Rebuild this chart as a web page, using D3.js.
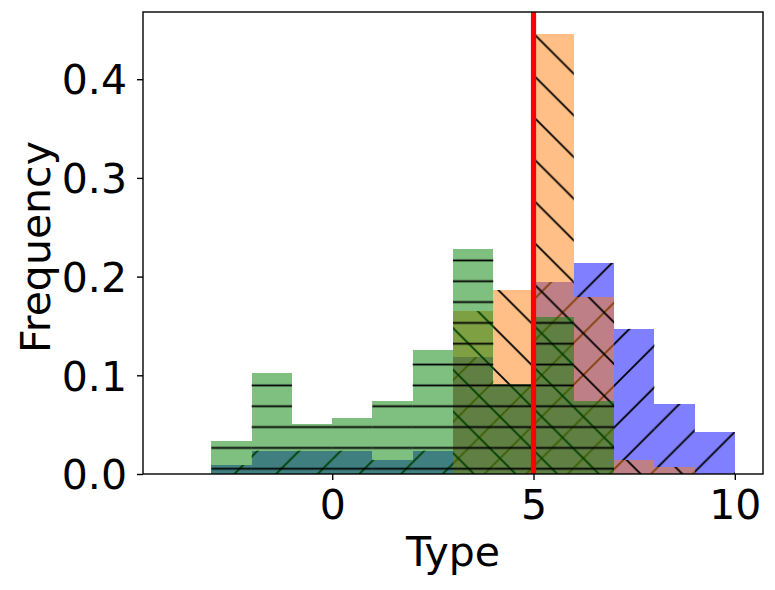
<!DOCTYPE html>
<html lang="en">
<head>
<meta charset="UTF-8">
<title>Type histogram</title>
<script src="https://d3js.org/d3.v7.min.js"></script>
<style>
  body { margin: 0; background: #fff; }
  svg { display: block; font-family: "DejaVu Sans", sans-serif; }
</style>
</head>
<body>
<svg id="main" width="775" height="590"></svg>
<script>
// histogram bins (left edges, width 1) and densities
const binStarts = [-4, -3, -2, -1, 0, 1, 2, 3, 4, 5, 6, 7, 8, 9];
const binWidth = 1;
const blueVals   = [0, 0.0091, 0.0236, 0.0236, 0.0236, 0.0142, 0.0236, 0.1185, 0.0912, 0.1945, 0.2138, 0.147, 0.0709, 0.0426];
const orangeVals = [0, 0, 0, 0, 0, 0, 0, 0.165, 0.1864, 0.4458, 0.1793, 0.0142, 0.0071, 0];
const greenVals  = [0, 0.0334, 0.1023, 0.0507, 0.0567, 0.074, 0.1256, 0.228, 0.0912, 0.159, 0.074, 0, 0, 0];
const xTicks = [0, 5, 10];
const yTicks = [0, 0.1, 0.2, 0.3, 0.4];
const threshold = 5;

const series = [
  {name: 'blue', color: '#0000ff', hatch: 'hatch-ne', vals: blueVals},
  {name: 'orange', color: '#ff7f0e', hatch: 'hatch-nw', vals: orangeVals},
  {name: 'green', color: '#008000', hatch: 'hatch-h', vals: greenVals}
];

const L = 143, R = 763, T = 12, B = 474;
const svg = d3.select('svg#main');

const lo = d3.min(binStarts), hi = d3.max(binStarts) + binWidth;
const pad = (hi - lo) * 0.05;
const x = d3.scaleLinear().domain([lo - pad, hi + pad]).range([L, R]);
const ymax = d3.max(series, s => d3.max(s.vals)) * 1.05;
const y = d3.scaleLinear().domain([0, ymax]).range([B, T]);

// hatch patterns, anchored to the page like matplotlib does
const P = 20.833, D = 41.667, hw = 1.8;
const defs = svg.append('defs');
let p = defs.append('pattern').attr('id', 'hatch-ne').attr('patternUnits', 'userSpaceOnUse')
  .attr('width', D).attr('height', D);
p.append('path').attr('d', `M-2,${D+2}L${D+2},-2 M-2,2L2,-2 M${D-2},${D+2}L${D+2},${D-2}`)
  .attr('stroke', '#000').attr('stroke-width', hw);
p = defs.append('pattern').attr('id', 'hatch-nw').attr('patternUnits', 'userSpaceOnUse')
  .attr('width', D).attr('height', D);
p.append('path').attr('d', `M-2,-2L${D+2},${D+2} M${D-2},-2L${D+2},2 M-2,${D-2}L2,${D+2}`)
  .attr('stroke', '#000').attr('stroke-width', hw);
p = defs.append('pattern').attr('id', 'hatch-h').attr('patternUnits', 'userSpaceOnUse')
  .attr('width', P).attr('height', P);
p.append('path').attr('d', `M-1,${P/2}L${P+1},${P/2}`)
  .attr('stroke', '#000').attr('stroke-width', hw);

// bars: fill with alpha, then opaque hatch, series after series
series.forEach(s => {
  const bins = binStarts.map((b, i) => ({x0: b, x1: b + binWidth, v: s.vals[i]})).filter(d => d.v > 0);
  const g = svg.append('g').attr('class', 'series-' + s.name);
  g.selectAll('rect.fill').data(bins).enter().append('rect')
    .attr('class', 'fill')
    .attr('x', d => x(d.x0)).attr('width', d => x(d.x1) - x(d.x0))
    .attr('y', d => y(d.v)).attr('height', d => y(0) - y(d.v))
    .attr('fill', s.color).attr('fill-opacity', 0.5)
    .attr('shape-rendering', 'crispEdges');
  g.selectAll('rect.hatch').data(bins).enter().append('rect')
    .attr('class', 'hatch')
    .attr('x', d => x(d.x0)).attr('width', d => x(d.x1) - x(d.x0))
    .attr('y', d => y(d.v)).attr('height', d => y(0) - y(d.v))
    .attr('fill', `url(#${s.hatch})`);
});

// threshold line
svg.append('line')
  .attr('x1', x(threshold)).attr('x2', x(threshold))
  .attr('y1', T).attr('y2', B)
  .attr('stroke', '#ff0000').attr('stroke-width', 5.2);

// axes
const fs = 41;
const xAxis = svg.append('g').attr('transform', `translate(0,${B})`)
  .call(d3.axisBottom(x).tickValues(xTicks).tickSize(6).tickFormat(d3.format('d')));
xAxis.select('.domain').remove();
xAxis.selectAll('line').attr('stroke-width', 1.4);
xAxis.selectAll('text').attr('y', 45).attr('dy', 0).attr('font-size', fs)
  .attr('font-family', '"DejaVu Sans", sans-serif').attr('fill', '#000');

const yAxis = svg.append('g').attr('transform', `translate(${L},0)`)
  .call(d3.axisLeft(y).tickValues(yTicks).tickSize(6).tickPadding(10).tickFormat(d3.format('.1f')));
yAxis.select('.domain').remove();
yAxis.selectAll('line').attr('stroke-width', 1.4);
yAxis.selectAll('text').attr('dy', '0.36em').attr('font-size', fs)
  .attr('font-family', '"DejaVu Sans", sans-serif').attr('fill', '#000');

svg.append('rect').attr('x', L).attr('y', T).attr('width', R - L).attr('height', B - T)
  .attr('fill', 'none').attr('stroke', '#000').attr('stroke-width', 1.4);

svg.append('text').attr('x', (L + R) / 2).attr('y', 566)
  .attr('text-anchor', 'middle').attr('font-size', fs).text('Type');
svg.append('text').attr('transform', `translate(50,${(T + B) / 2 + 4}) rotate(-90)`)
  .attr('text-anchor', 'middle').attr('font-size', fs).text('Frequency');
</script>
</body>
</html>
